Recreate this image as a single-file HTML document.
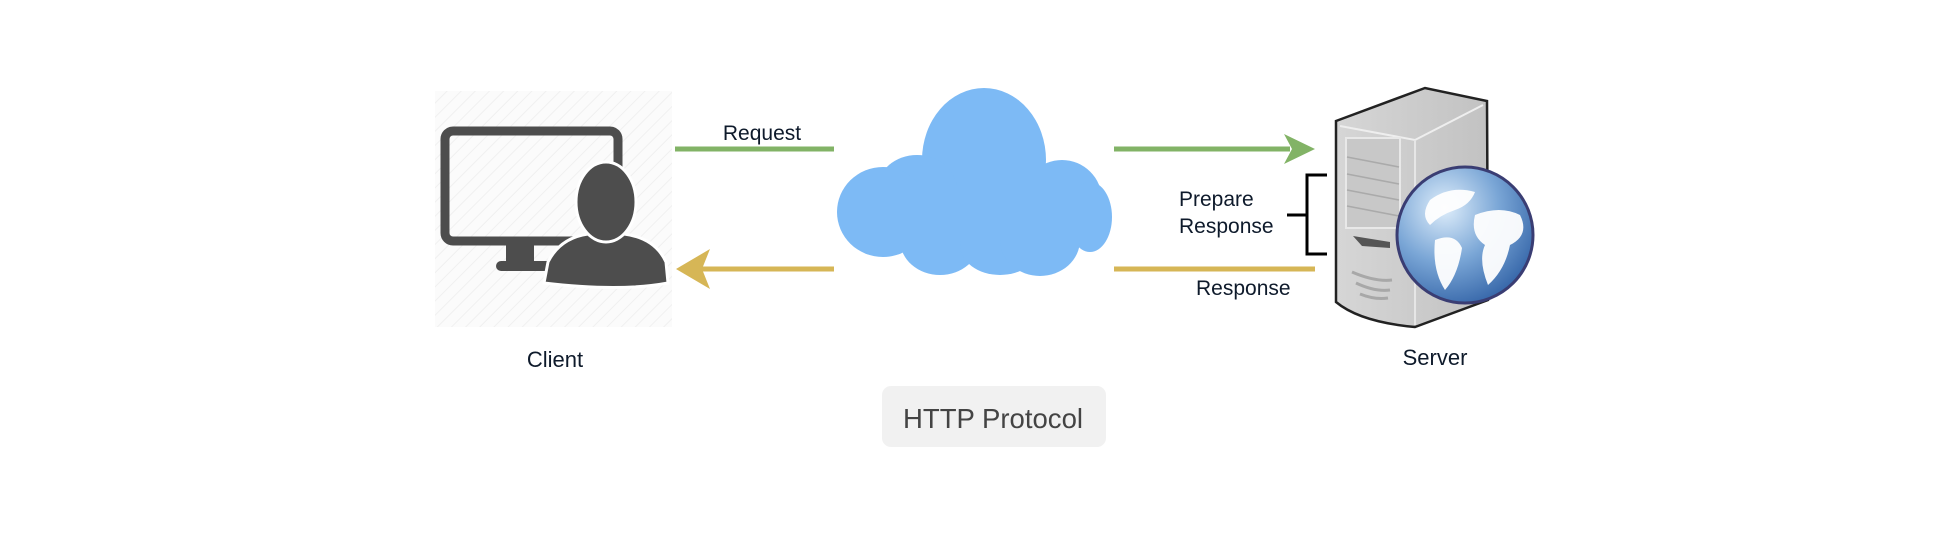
<!DOCTYPE html>
<html><head><meta charset="utf-8"><style>
html,body{margin:0;padding:0;background:#fff;}
svg{display:block;}
text{font-family:"Liberation Sans",sans-serif;}
</style></head><body>
<svg width="1950" height="538" viewBox="0 0 1950 538" xmlns="http://www.w3.org/2000/svg">
<defs>
<pattern id="hatch" width="10" height="10" patternUnits="userSpaceOnUse" patternTransform="rotate(45)">
<rect width="10" height="10" fill="#fbfbfb"/><line x1="0" y1="0" x2="0" y2="10" stroke="#f0f0f0" stroke-width="2"/>
</pattern>
<radialGradient id="globe" cx="0.35" cy="0.3" r="0.8">
<stop offset="0" stop-color="#dfeefb"/><stop offset="0.5" stop-color="#7aa6d6"/><stop offset="1" stop-color="#2d5ea3"/>
</radialGradient>
<linearGradient id="srv" x1="0" x2="1"><stop offset="0" stop-color="#d6d6d6"/><stop offset="1" stop-color="#c2c2c2"/></linearGradient>
</defs>
<!-- client -->
<rect x="435" y="91" width="237" height="236" fill="url(#hatch)"/>
<rect x="445" y="131" width="173" height="110" rx="8" fill="none" stroke="#4d4d4d" stroke-width="9"/>
<rect x="506" y="243" width="28" height="22" fill="#4d4d4d"/>
<rect x="496" y="261" width="60" height="10" rx="5" fill="#4d4d4d"/>
<path d="M548 262 Q560 238 588 234 Q606 246 624 234 Q655 238 666 262 L668 283 Q620 292 544 283 Z" fill="#4d4d4d" stroke="#fff" stroke-width="3"/>
<ellipse cx="606" cy="202" rx="30" ry="40" fill="#4d4d4d" stroke="#fff" stroke-width="3"/>
<text x="555" y="367" font-size="22" fill="#0e1a2b" text-anchor="middle">Client</text>
<!-- request -->
<line x1="675" y1="149" x2="834" y2="149" stroke="#82b366" stroke-width="5"/>
<text x="762" y="140" font-size="21" fill="#0e1a2b" text-anchor="middle">Request</text>
<line x1="700" y1="269" x2="834" y2="269" stroke="#d6b656" stroke-width="5"/>
<path d="M676 269 L710 249 L702 269 L710 289 Z" fill="#d6b656"/>
<!-- cloud -->
<g fill="#7dbaf5">
<ellipse cx="984" cy="160" rx="62" ry="72"/>
<ellipse cx="917" cy="190" rx="40" ry="35"/>
<ellipse cx="883" cy="212" rx="46" ry="45"/>
<ellipse cx="1062" cy="200" rx="40" ry="40"/>
<ellipse cx="1090" cy="217" rx="22" ry="35"/>
<ellipse cx="940" cy="240" rx="40" ry="35"/>
<ellipse cx="1000" cy="245" rx="40" ry="30"/>
<ellipse cx="1040" cy="240" rx="40" ry="36"/>
<rect x="860" y="185" width="230" height="55"/>
</g>
<!-- right arrows -->
<line x1="1114" y1="149" x2="1290" y2="149" stroke="#82b366" stroke-width="5"/>
<path d="M1315 149 L1284 134 L1292 149 L1284 164 Z" fill="#82b366"/>
<line x1="1114" y1="269" x2="1315" y2="269" stroke="#d6b656" stroke-width="5"/>
<text x="1196" y="295" font-size="21" fill="#0e1a2b">Response</text>
<text x="1179" y="206" font-size="21" fill="#0e1a2b">Prepare</text>
<text x="1179" y="233" font-size="21" fill="#0e1a2b">Response</text>
<path d="M1327 175 H1307 V254 H1327 M1287 215 H1307" fill="none" stroke="#000" stroke-width="3"/>
<!-- server -->
<path d="M1336 121 L1425 88 L1487 101 L1488 300 L1415 327 Q1360 322 1336 302 Z" fill="url(#srv)" stroke="#222" stroke-width="2.5"/>
<path d="M1340 126 L1415 140 L1483 105" fill="none" stroke="#eee" stroke-width="2"/>
<line x1="1415" y1="140" x2="1415" y2="325" stroke="#e6e6e6" stroke-width="2"/>
<rect x="1346" y="138" width="54" height="90" fill="#c8c8c8" stroke="#e8e8e8" stroke-width="2"/>
<g stroke="#aaa" stroke-width="1.5"><line x1="1347" y1="157" x2="1399" y2="167"/><line x1="1347" y1="174" x2="1399" y2="184"/><line x1="1347" y1="190" x2="1399" y2="200"/><line x1="1347" y1="206" x2="1399" y2="216"/></g>
<path d="M1353 236 L1390 242 L1390 248 L1362 246 Z" fill="#555"/>
<g stroke="#a8a8a8" stroke-width="3" fill="none"><path d="M1352 272 Q1375 282 1392 280"/><path d="M1356 283 Q1375 292 1390 290"/><path d="M1360 294 Q1375 300 1388 298"/></g>
<circle cx="1465" cy="235" r="68" fill="url(#globe)" stroke="#3a3d73" stroke-width="3"/>
<g fill="#fff" opacity="0.95">
<path d="M1430 200 Q1450 185 1475 192 Q1470 205 1455 210 Q1440 215 1430 225 Q1420 215 1430 200Z"/>
<path d="M1435 240 Q1455 232 1462 248 Q1458 275 1445 290 Q1432 270 1435 240Z"/>
<path d="M1475 215 Q1500 205 1520 215 Q1530 235 1510 245 Q1505 270 1488 285 Q1478 260 1485 245 Q1470 235 1475 215Z"/>
</g>
<text x="1435" y="365" font-size="22" fill="#0e1a2b" text-anchor="middle">Server</text>
<!-- HTTP Protocol -->
<rect x="882" y="386" width="224" height="61" rx="9" fill="#f1f1f1"/>
<text x="993" y="428" font-size="28" fill="#444" text-anchor="middle" textLength="180" lengthAdjust="spacingAndGlyphs">HTTP Protocol</text>
</svg>
</body></html>
